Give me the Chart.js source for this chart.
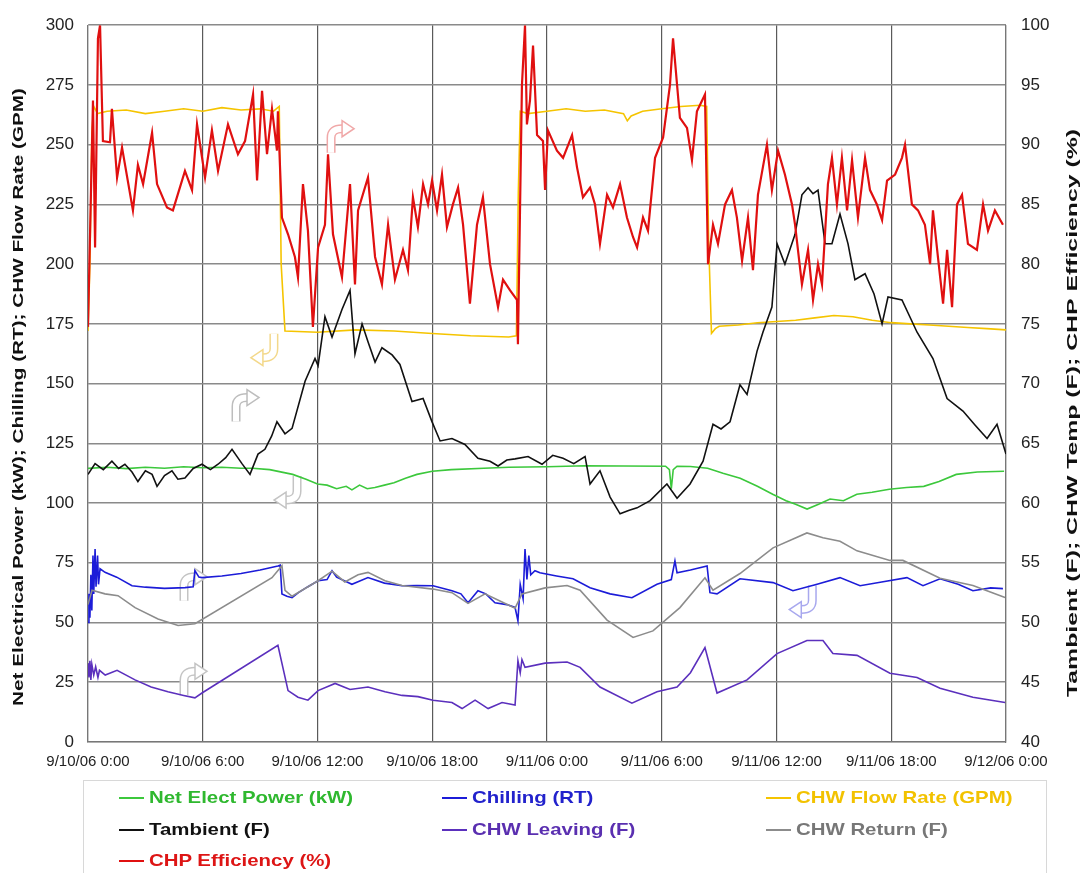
<!DOCTYPE html>
<html>
<head>
<meta charset="utf-8">
<script src="https://cdn.jsdelivr.net/npm/chart.js@4.4.1/dist/chart.umd.min.js"></script>
<style>
  html, body { margin: 0; padding: 0; background: #fff; }
  #wrap { position: relative; width: 1085px; height: 873px; overflow: hidden; }
  #legend {
    position: absolute; left: 83px; top: 780px; width: 964px; height: 110px;
    border: 1px solid #d8d8d8; box-sizing: border-box;
    font-family: "Liberation Sans", Arial, sans-serif; font-weight: bold; font-size: 17px;
  }
  .li { position: absolute; height: 20px; white-space: nowrap; }
  .li i { position: absolute; left: 0; top: 9px; width: 25px; height: 2px; }
  .li span { position: absolute; left: 30px; top: 0; line-height: 20px; display: inline-block;
             transform: scaleX(1.2); transform-origin: left center; }
</style>
</head>
<body>
<div id="wrap">
  <canvas id="c" width="1085" height="873"></canvas>
  <div id="legend"></div>
</div>
<script>
// x axis runs in hours from 9/10/06 0:00
var xLabels = ['9/10/06 0:00', '9/10/06 6:00', '9/10/06 12:00', '9/10/06 18:00', '9/11/06 0:00',
               '9/11/06 6:00', '9/11/06 12:00', '9/11/06 18:00', '9/12/06 0:00'];

// Net Elect Power (kW) - left axis
var tNet = [0, 1, 2, 3, 4, 5, 6, 7, 8, 8.6,
            9.5, 10.7, 11.4, 12, 12.5, 13, 13.5, 13.8, 14.2, 14.6,
            15, 15.5, 16, 16.6, 17.2, 18, 19, 20.7, 22, 24,
            26, 28, 30.2, 30.4, 30.5, 30.6, 30.8, 31.5, 32.4, 33.2,
            34.1, 35, 35.8, 36.5, 37, 37.6, 38.2, 38.8, 39.5, 40.2,
            41, 41.9, 42.8, 43.7, 44.5, 45.4, 46.5, 47.9];
var vNet = [114.5, 115, 114.4, 115, 114.6, 115.2, 114.8, 115, 114.6, 114.6,
            114, 112, 110, 108, 107.5, 106, 107, 105.5, 107.5, 106,
            106.5, 107.5, 108.5, 110.4, 112, 113.3, 114, 114.6, 115, 115.2,
            115.6, 115.5, 115.4, 114, 106, 114, 115.4, 115.3, 114.6, 112.5,
            110.4, 107, 103.7, 101, 99.5, 97.5, 99.5, 101.7, 101, 103.7,
            104.5, 105.8, 106.5, 107, 109, 112, 113, 113.3];

// Chilling (RT) - left axis
var tChill = [0, 0.05, 0.1, 0.15, 0.2, 0.26, 0.3, 0.37, 0.42, 0.5,
              0.55, 0.63, 0.89, 1.5, 2.3, 3, 4, 5.07, 5.5, 5.59,
              5.8, 5.96, 7, 8, 9, 9.93, 10.05, 10.14, 10.4, 10.67,
              11, 11.5, 12.03, 12.5, 12.76, 13, 13.8, 14.64, 15.5, 16.42,
              17.2, 18.04, 19.03, 19.5, 19.87, 20.39, 20.8, 21.28, 21.9, 22.33,
              22.48, 22.6, 22.75, 22.85, 22.95, 23.05, 23.15, 23.37, 23.63, 24.5,
              25.36, 26.25, 27.3, 28.44, 29.75, 30.5, 30.69, 30.8, 31.5, 32.37,
              32.52, 32.89, 34.09, 35.82, 36.86, 38.12, 39.32, 40.37, 41.5, 42.82,
              43.66, 44.55, 45.5, 46.27, 47.2, 47.84];
var vChill = [50, 62, 52, 70, 55, 78, 62, 80.8, 65, 78,
              66, 72.5, 71, 69, 65.4, 64.8, 64.3, 64.6, 65, 71.7,
              69, 68.8, 69.5, 70.5, 72, 73.7, 74, 62, 61, 60.4,
              62.5, 65, 67.5, 68, 71.7, 69, 66, 68.8, 66.5, 65.4,
              65.5, 65.4, 63.3, 62, 58.3, 63.3, 62, 58.3, 57.5, 56.3,
              50.8, 66, 60, 80.8, 68, 78, 70, 71.7, 70.8, 69.5,
              68.3, 64.6, 62, 60.4, 66, 68, 75.8, 70.8, 72, 73.7,
              62.5, 62, 68.3, 66.7, 63.3, 66, 68.8, 65.4, 67, 68.8,
              65.4, 68.3, 66, 63.3, 64.5, 64.2];

// CHW Flow Rate (GPM) - left axis
var tFlow = [0, 0.1, 0.2, 0.3, 0.5, 1, 2, 3, 4, 5,
             6, 7, 8, 9, 9.7, 10.0, 10.1, 10.3, 12, 14,
             16, 18, 20, 22, 22.4, 22.5, 22.6, 23, 24, 25,
             26, 27, 28, 28.2, 28.4, 29, 30, 31, 32, 32.35,
             32.45, 32.6, 32.8, 33, 34, 35, 36, 37, 38, 39,
             40, 41, 42, 43, 44, 45, 46, 47, 48];
var vFlow = [172, 200, 255, 266, 263, 264, 264.5, 263, 264, 265,
             264, 265.5, 264.5, 265, 264, 266, 200, 172, 171.5, 172.5,
             172, 171, 170, 169.5, 170, 230, 264, 263, 264, 265,
             264, 264.5, 263, 260, 262, 264, 265, 266, 266.5, 266,
             210, 171, 173, 174, 174.5, 175.5, 176, 176.5, 177.5, 178.5,
             178, 176.5, 175.5, 175, 174.5, 174, 173.5, 173, 172.5];

// Tambient (F) - right axis
var tTamb = [0, 0.37, 0.8, 1.25, 1.6, 1.93, 2.3, 2.61, 3, 3.35,
             3.61, 4, 4.39, 4.7, 5.07, 5.5, 5.96, 6.4, 6.8, 7.2,
             7.53, 8.05, 8.47, 8.89, 9.25, 9.6, 9.88, 10.3, 10.67, 11.35,
             11.87, 12.03, 12.39, 12.76, 13.28, 13.7, 13.96, 14.33, 14.64, 15.01,
             15.37, 15.9, 16.31, 16.94, 17.52, 17.99, 18.41, 19.03, 19.71, 20.39,
             21.02, 21.44, 21.9, 22.33, 23.01, 23.74, 24.3, 24.84, 25.4, 25.99,
             26.25, 26.77, 27.3, 27.82, 28.3, 28.71, 29.39, 30.27, 30.8, 31.48,
             32.16, 32.68, 33.1, 33.57, 34.09, 34.46, 34.98, 35.29, 35.76, 36.03,
             36.44, 36.97, 37.33, 37.65, 37.91, 38.17, 38.54, 38.9, 39.32, 39.74,
             40.1, 40.63, 41.1, 41.52, 41.83, 42.56, 43.35, 44.18, 44.92, 45.75,
             46.4, 47.01, 47.53, 48];
var vTamb = [62.4, 63.3, 62.8, 63.5, 62.9, 63.25, 62.6, 61.8, 62.7, 62.4,
             61.4, 62.3, 62.7, 62, 62.1, 62.9, 63.25, 62.8, 63.25, 63.8,
             64.5, 63.3, 62.4, 64.1, 64.5, 65.6, 66.8, 65.8, 66.25, 70.2,
             72.1, 71.5, 75.6, 73.9, 76.2, 77.8, 72.5, 75, 73.5, 71.8,
             73, 72.4, 71.6, 68.5, 68.75, 66.8, 65.2, 65.4, 64.9, 63.75,
             63.5, 63.1, 63.6, 63.7, 63.9, 63.25, 64, 63.75, 63.3, 63.9,
             61.6, 62.7, 60.5, 59.1, 59.4, 59.6, 60.2, 61.6, 60.4, 61.6,
             63.5, 66.6, 66.2, 66.8, 69.9, 69.1, 72.7, 74.3, 76.4, 81.7,
             80, 82.5, 85.8, 86.4, 85.9, 86.2, 81.7, 81.7, 84.2, 81.7,
             78.7, 79.2, 77.5, 75, 77.25, 77, 74.3, 72.1, 68.75, 67.7,
             66.5, 65.4, 66.6, 64.1];

// CHW Leaving (F) - right axis
var tLeave = [0, 0.05, 0.1, 0.15, 0.2, 0.3, 0.4, 0.52, 0.6, 0.9,
              1.52, 2.46, 3.3, 4.18, 5.0, 5.59, 5.96, 9.93, 10.46, 10.98,
              11.5, 12.03, 12.92, 13.7, 14.64, 15.53, 16.42, 17.25, 18.04, 19.03,
              19.56, 20.24, 20.92, 21.65, 22.33, 22.48, 22.6, 22.69, 22.85, 23.9,
              25.05, 25.73, 26.77, 28.44, 29.75, 30.8, 31.5, 32.26, 32.89, 34.46,
              36.03, 37.59, 38.43, 38.95, 40.21, 41.93, 43.35, 44.55, 46.27, 47.95];
var vLeave = [46.6, 45.4, 46.8, 45.2, 46.5, 45.6, 46.3, 45.4, 46, 45.6,
              46, 45.2, 44.6, 44.2, 43.9, 43.7, 44.1, 48.1, 44.3, 43.75,
              43.5, 44.3, 44.9, 44.4, 44.6, 44.2, 43.9, 43.8, 43.5, 43.3,
              42.8, 43.5, 42.8, 43.3, 43.1, 46.8, 45.8, 46.9, 46.25, 46.6,
              46.7, 46.25, 44.6, 43.25, 44.2, 44.6, 45.8, 47.9, 44.1, 45.2,
              47.4, 48.5, 48.5, 47.4, 47.25, 45.75, 45.4, 44.5, 43.75, 43.3];

// CHW Return (F) - right axis
var tRet = [0, 0.21, 0.89, 1.57, 2.46, 3.66, 4.71, 5.59, 9.62, 10.14,
            10.3, 10.67, 12.03, 12.76, 13.43, 14.12, 14.64, 15.53, 16.42, 18.04,
            19.03, 19.87, 20.76, 21.54, 22.33, 22.69, 23.9, 25.05, 25.73, 27.14,
            28.5, 29.54, 30.95, 32.26, 32.68, 34.09, 35.82, 37.59, 38.43, 39.32,
            40.21, 41.93, 42.61, 44.55, 46.27, 47.95];
var vRet = [51.5, 52.7, 52.4, 52.25, 51.25, 50.3, 49.75, 49.9, 53.75, 54.75,
            52.7, 52.2, 53.5, 54.3, 53.4, 54, 54.2, 53.5, 53.1, 52.8,
            52.5, 51.6, 52.4, 51.8, 51.2, 52.4, 52.9, 53.1, 52.7, 50.2,
            48.75, 49.3, 51.25, 53.75, 52.7, 54.1, 56.25, 57.5, 57.1, 56.8,
            56, 55.2, 55.2, 53.7, 53.1, 52.1];

// CHP Efficiency (%) - right axis
var tEff = [0, 0.26, 0.37, 0.52, 0.63, 0.78, 1.15, 1.25, 1.52, 1.78,
            2.35, 2.61, 2.88, 3.35, 3.61, 4.13, 4.44, 5.07, 5.44, 5.70,
            6.12, 6.48, 6.80, 7.32, 7.84, 8.21, 8.63, 8.84, 9.10, 9.36,
            9.62, 9.88, 9.93, 10.14, 10.46, 10.82, 10.98, 11.24, 11.50, 11.76,
            12.03, 12.39, 12.55, 12.81, 13.28, 13.70, 13.96, 14.12, 14.64, 15.01,
            15.37, 15.69, 16.05, 16.47, 16.73, 16.99, 17.25, 17.52, 17.78, 17.99,
            18.25, 18.51, 18.77, 19.08, 19.35, 19.61, 19.97, 20.34, 20.65, 21.02,
            21.44, 21.70, 22.07, 22.43, 22.48, 22.69, 22.85, 22.95, 23.11, 23.27,
            23.48, 23.79, 23.90, 24.05, 24.52, 24.84, 25.31, 25.57, 25.88, 26.25,
            26.51, 26.77, 27.14, 27.45, 27.82, 28.18, 28.50, 28.71, 29.02, 29.28,
            29.65, 30.07, 30.43, 30.59, 30.95, 31.32, 31.58, 31.84, 32.26, 32.42,
            32.68, 32.94, 33.31, 33.67, 33.93, 34.20, 34.51, 34.77, 35.03, 35.50,
            35.76, 36.08, 36.44, 36.81, 36.97, 37.33, 37.65, 37.91, 38.17, 38.38,
            38.69, 38.90, 39.16, 39.42, 39.69, 39.95, 40.26, 40.63, 40.89, 41.25,
            41.52, 41.78, 42.20, 42.56, 42.72, 43.08, 43.40, 43.76, 44.03, 44.18,
            44.44, 44.71, 44.92, 45.18, 45.44, 45.70, 46.01, 46.48, 46.80, 47.06,
            47.42, 47.84];
var vEff = [74.75, 93.7, 81.4, 98.9, 100, 90.3, 90.2, 93, 87.25, 89.75,
            84.5, 88.3, 86.7, 91, 86.7, 84.75, 84.5, 87.8, 86.2, 91.7,
            87.25, 91.2, 87.8, 91.7, 89.2, 90.3, 94.2, 87, 94.5, 89.2,
            93, 89.5, 92.8, 83.9, 82.5, 80.6, 78.9, 86.7, 82.8, 74.75,
            81.4, 83.3, 89.2, 82.5, 78.9, 86.7, 78.3, 84.5, 87.25, 80.6,
            78.3, 83.3, 78.7, 81.2, 79.5, 85.6, 83.1, 86.7, 85, 87,
            84.5, 87.5, 83.1, 85, 86.4, 83.3, 76.7, 83.3, 85.6, 80,
            76.4, 78.7, 77.8, 77, 73.3, 95, 100, 91.7, 93.7, 98.3,
            90.8, 90.3, 86.2, 91.2, 89.5, 88.9, 90.8, 88.1, 85.6, 86.4,
            85, 81.7, 85.8, 84.75, 86.7, 83.9, 82.25, 81.4, 83.9, 82.8,
            88.9, 90.6, 95, 98.9, 92.25, 91.4, 88.7, 92.8, 94.2, 80,
            83.3, 81.7, 85, 86.2, 83.9, 80.3, 83.9, 79.5, 85.8, 90,
            86.2, 89.5, 87.5, 85, 83.3, 78.3, 81.2, 77, 80, 78.3,
            86.7, 88.9, 85, 88.9, 84.5, 88.7, 83.9, 88.9, 86.2, 85,
            83.7, 87, 87.5, 88.9, 90, 85, 84.5, 83.3, 80, 84.5,
            80.6, 76.7, 81.2, 76.4, 85, 85.8, 81.7, 81.2, 85, 82.8,
            84.5, 83.3];

// curved "which axis" arrows: [hour, left-axis value, direction, colour]
var arrows = [
  [13.18, 252.9, 'right', '#f0a8a8'],
  [9.25, 164.6, 'left', '#f3d88a'],
  [8.21, 140.4, 'right', '#bdbdbd'],
  [10.46, 105, 'left', '#c4c4c4'],
  [5.49, 65.4, 'right', '#c4c4c4'],
  [5.49, 25.8, 'right', '#c4c4c4'],
  [37.4, 59.2, 'left', '#a8a8ee']
];

function pts(t, v) {
  return t.map(function (h, i) { return { x: h, y: v[i] }; });
}

function series(label, t, v, color, axis, order, width) {
  return {
    label: label, data: pts(t, v), yAxisID: axis, order: order,
    borderColor: color, backgroundColor: color, borderWidth: width || 1.6,
    pointRadius: 0, tension: 0, fill: false
  };
}

var legendColors = ['#2fb82f', '#2222cc', '#f2c200', '#111111', '#5a2fb0', '#777777', '#dd1515'];

var datasets = [
  series('Net Elect Power (kW)', tNet, vNet, '#3cc83c', 'y', 7),
  series('Chilling (RT)', tChill, vChill, '#1c1cd8', 'y', 6),
  series('CHW Flow Rate (GPM)', tFlow, vFlow, '#f5c400', 'y', 5),
  series('Tambient (F)', tTamb, vTamb, '#111111', 'y2', 4),
  series('CHW Leaving (F)', tLeave, vLeave, '#5b30bd', 'y2', 3),
  series('CHW Return (F)', tRet, vRet, '#8c8c8c', 'y2', 2),
  series('CHP Efficiency (%)', tEff, vEff, '#e01010', 'y2', 1, 2.2)
];

// axis titles (both read bottom-to-top) and the little arrows
var extras = {
  id: 'extras',
  beforeDatasetsDraw: function (chart) {
    var ctx = chart.ctx, xs = chart.scales.x, ys = chart.scales.y;
    arrows.forEach(function (a) {
      var cx = xs.getPixelForValue(a[0]), cy = ys.getPixelForValue(a[1]);
      var s = a[2] === 'right' ? 1 : -1;
      ctx.save();
      ctx.translate(cx, cy);
      ctx.scale(s, s);
      ctx.beginPath();
      ctx.moveTo(-9, 15);
      ctx.lineTo(-9, 0);
      ctx.quadraticCurveTo(-9, -9, 2, -9);
      ctx.lineCap = 'butt';
      ctx.strokeStyle = a[3];
      ctx.lineWidth = 9;
      ctx.stroke();
      ctx.strokeStyle = '#fff';
      ctx.lineWidth = 6;
      ctx.stroke();
      ctx.beginPath();
      ctx.moveTo(2, -17);
      ctx.lineTo(14, -9);
      ctx.lineTo(2, -1);
      ctx.closePath();
      ctx.fillStyle = '#fff';
      ctx.fill();
      ctx.lineWidth = 1.5;
      ctx.strokeStyle = a[3];
      ctx.stroke();
      ctx.restore();
    });
  },
  afterDraw: function (chart) {
    var ctx = chart.ctx;
    function vtitle(text, x, y, len) {
      ctx.save();
      ctx.translate(x, y);
      ctx.rotate(-Math.PI / 2);
      ctx.font = 'bold 15px "Liberation Sans", Arial, sans-serif';
      ctx.fillStyle = '#111';
      ctx.textAlign = 'center';
      ctx.textBaseline = 'middle';
      ctx.scale(len / ctx.measureText(text).width, 1);
      ctx.fillText(text, 0, 0);
      ctx.restore();
    }
    vtitle('Net Electrical Power (kW); Chilling (RT); CHW Flow Rate (GPM)', 19, 397, 618);
    vtitle('Tambient (F); CHW Temp (F); CHP Efficiency (%)', 1073, 413, 568);
  }
};

var tickFont = { family: '"Liberation Sans", Arial, sans-serif', size: 17 };

var chart = new Chart(document.getElementById('c'), {
  type: 'line',
  data: { datasets: datasets },
  plugins: [extras],
  options: {
    responsive: false,
    animation: false,
    events: [],
    layout: { padding: { top: 20, left: 0, right: 0, bottom: 0 } },
    plugins: { legend: { display: false }, tooltip: { enabled: false } },
    scales: {
      x: {
        type: 'linear', min: 0, max: 48,
        afterFit: function (s) { s.height = 131; },
        afterBuildTicks: function (s) {
          s.ticks = xLabels.map(function (l, i) { return { value: i * 6 }; });
        },
        ticks: {
          font: { family: '"Liberation Sans", Arial, sans-serif', size: 15 },
          color: '#222', padding: 11, maxRotation: 0, autoSkip: false,
          callback: function (v) { return xLabels[Math.round(v / 6)]; }
        },
        grid: { color: '#5a5a5a', lineWidth: 1.2, drawTicks: false },
        border: { color: '#777', width: 1.2 }
      },
      y: {
        position: 'left', min: 0, max: 300,
        afterFit: function (s) { s.width = 88; },
        ticks: { stepSize: 25, font: tickFont, color: '#222', padding: 14 },
        grid: { color: '#8a8a8a', lineWidth: 1.6, drawTicks: false },
        border: { color: '#777', width: 1.2 }
      },
      y2: {
        position: 'right', min: 40, max: 100,
        afterFit: function (s) { s.width = 79; },
        ticks: { stepSize: 5, font: tickFont, color: '#222', padding: 15 },
        grid: { drawOnChartArea: false, drawTicks: false },
        border: { color: '#777', width: 1.2 }
      }
    }
  }
});

// legend, three columns like the original
var leg = document.getElementById('legend');
var colX = [35, 358, 682], rowY = [7, 39, 70];
chart.data.datasets.forEach(function (ds, i) {
  var d = document.createElement('div');
  d.className = 'li';
  d.style.left = colX[i % 3] + 'px';
  d.style.top = rowY[Math.floor(i / 3)] + 'px';
  d.innerHTML = '<i style="background:' + ds.borderColor + '"></i><span style="color:' +
    legendColors[i] + '">' + ds.label + '</span>';
  leg.appendChild(d);
});
</script>
</body>
</html>
